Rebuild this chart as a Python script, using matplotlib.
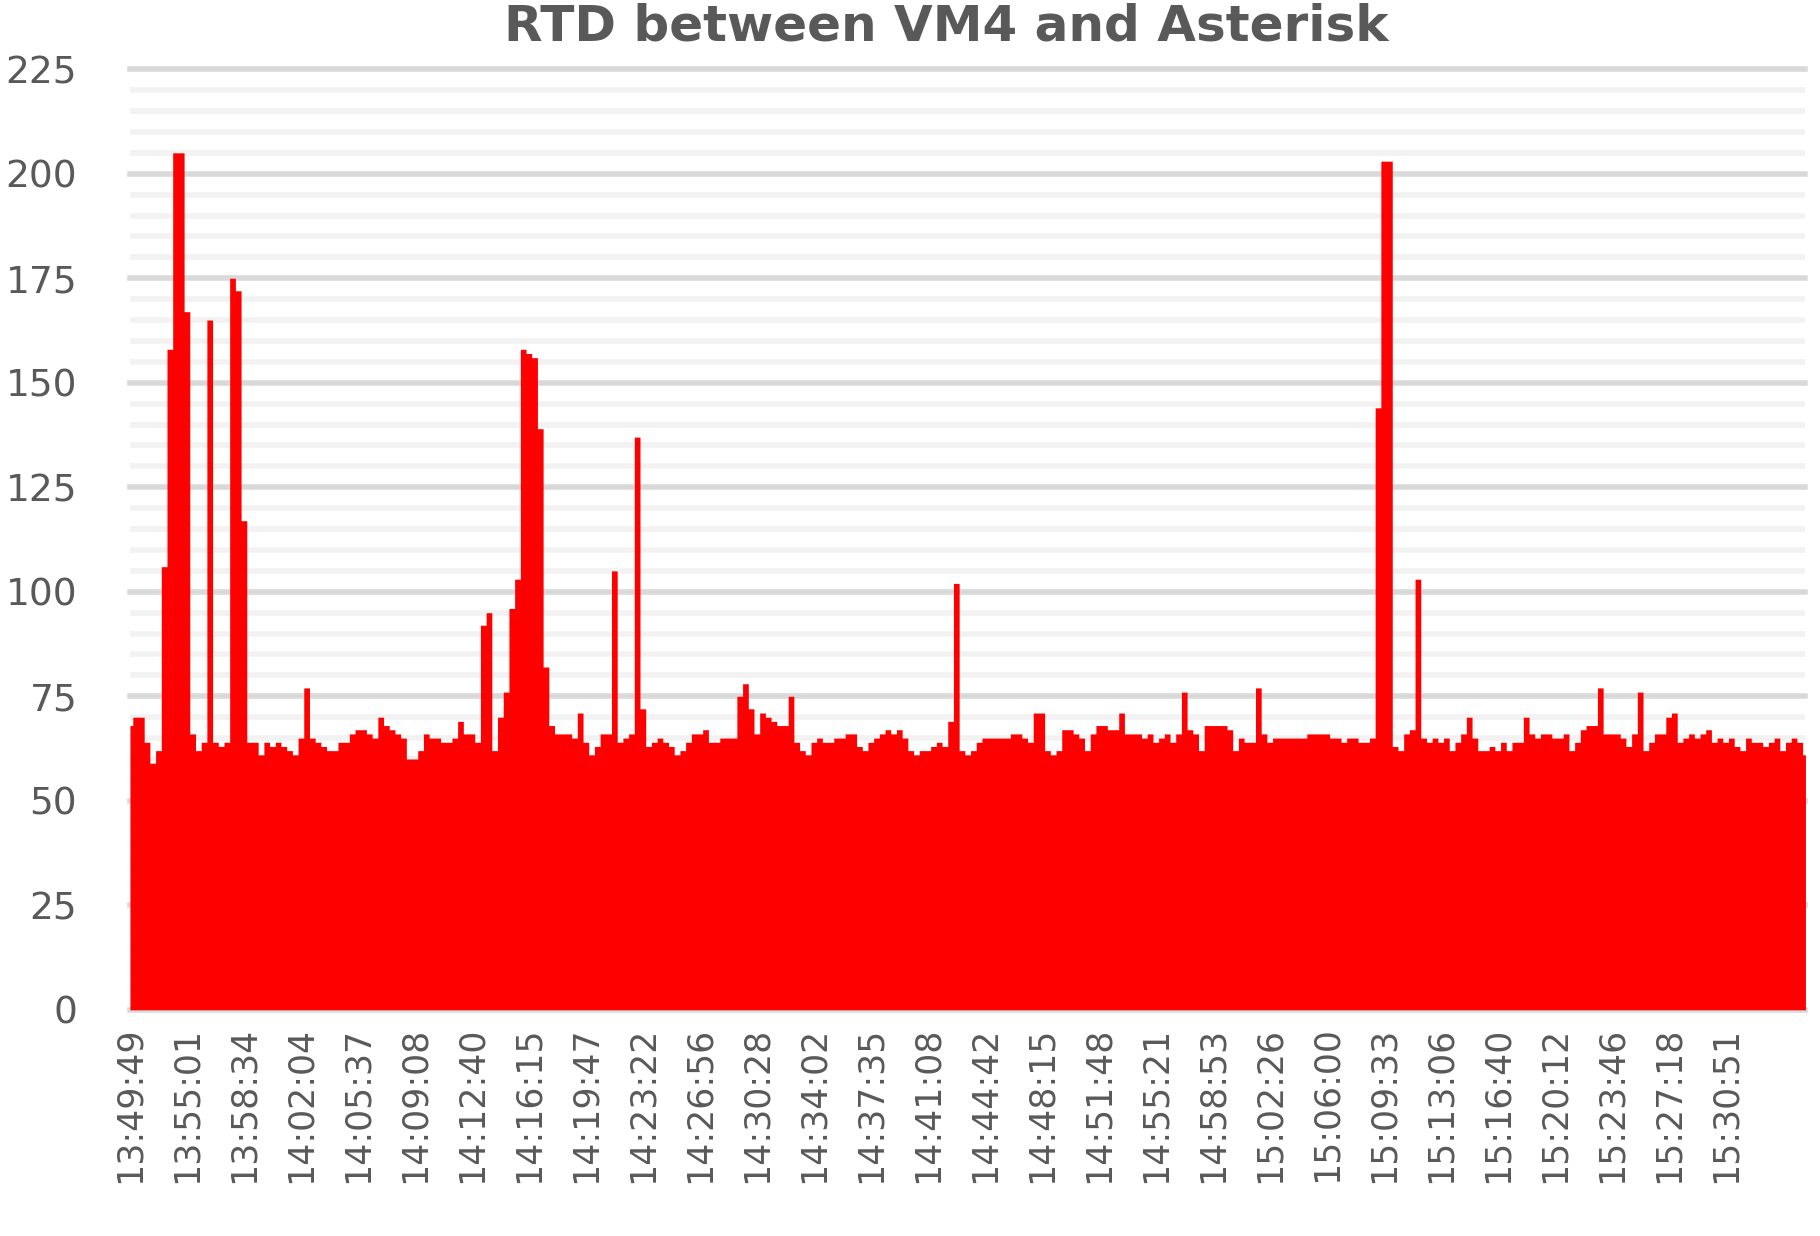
import matplotlib
matplotlib.use("Agg")
import matplotlib.pyplot as plt
import numpy as np

# RTD samples (ms), ten samples per tick label
rtd = [
    68, 70, 70, 64, 59, 62, 106, 158, 205, 205,
    167, 66, 62, 64, 165, 64, 63, 64, 175, 172,
    117, 64, 64, 61, 64, 63, 64, 63, 62, 61,
    65, 77, 65, 64, 63, 62, 62, 64, 64, 66,
    67, 67, 66, 65, 70, 68, 67, 66, 65, 60,
    60, 62, 66, 65, 65, 64, 64, 65, 69, 66,
    66, 64, 92, 95, 62, 70, 76, 96, 103, 158,
    157, 156, 139, 82, 68, 66, 66, 66, 65, 71,
    64, 61, 63, 66, 66, 105, 64, 65, 66, 137,
    72, 63, 64, 65, 64, 63, 61, 62, 64, 66,
    66, 67, 64, 64, 65, 65, 65, 75, 78, 72,
    66, 71, 70, 69, 68, 68, 75, 64, 62, 61,
    64, 65, 64, 64, 65, 65, 66, 66, 63, 62,
    64, 65, 66, 67, 66, 67, 65, 62, 61, 62,
    62, 63, 64, 63, 69, 102, 62, 61, 62, 64,
    65, 65, 65, 65, 65, 66, 66, 65, 64, 71,
    71, 62, 61, 62, 67, 67, 66, 65, 62, 66,
    68, 68, 67, 67, 71, 66, 66, 66, 65, 66,
    64, 65, 66, 64, 66, 76, 67, 66, 62, 68,
    68, 68, 68, 67, 62, 65, 64, 64, 77, 66,
    64, 65, 65, 65, 65, 65, 65, 66, 66, 66,
    66, 65, 65, 64, 65, 65, 64, 64, 65, 144,
    203, 203, 63, 62, 66, 67, 103, 65, 64, 65,
    64, 65, 62, 64, 66, 70, 65, 62, 62, 63,
    62, 64, 62, 64, 64, 70, 66, 65, 66, 66,
    65, 65, 66, 62, 64, 67, 68, 68, 77, 66,
    66, 66, 65, 63, 66, 76, 62, 64, 66, 66,
    70, 71, 64, 65, 66, 65, 66, 67, 64, 65,
    64, 65, 63, 62, 65, 64, 64, 63, 64, 65,
    62, 64, 65, 64, 61,
]

tick_labels = [
    "13:49:49", "13:55:01", "13:58:34", "14:02:04", "14:05:37", "14:09:08",
    "14:12:40", "14:16:15", "14:19:47", "14:23:22", "14:26:56", "14:30:28",
    "14:34:02", "14:37:35", "14:41:08", "14:44:42", "14:48:15", "14:51:48",
    "14:55:21", "14:58:53", "15:02:26", "15:06:00", "15:09:33", "15:13:06",
    "15:16:40", "15:20:12", "15:23:46", "15:27:18", "15:30:51",
]

gray = "#595959"
x = np.arange(len(rtd))

fig = plt.figure(figsize=(18.2, 12.36), dpi=100)
ax = fig.add_axes([0.0714, 0.183, 0.9206, 0.761])

for v in np.arange(5, 225, 5):
    if v % 25:
        ax.axhline(v, color="#f2f2f2", lw=4, zorder=0)
for v in np.arange(25, 226, 25):
    ax.axhline(v, color="#d9d9d9", lw=4, zorder=0, clip_on=False)

ax.fill_between(x, rtd, 0, step="mid", color="#ff0000", lw=0, zorder=2)
ax.axhline(0, color="#d9d9d9", lw=4, zorder=1, clip_on=False)

ax.set_xlim(0, len(rtd) - 1)
ax.set_ylim(0, 225)
ax.set_yticks(np.arange(0, 226, 25))
ax.set_xticks(np.arange(0, len(tick_labels) * 10, 10))
ax.set_xticklabels(tick_labels, rotation=90)
ax.tick_params(axis="y", length=0, labelsize=27, colors=gray, pad=38)
ax.tick_params(axis="x", length=0, labelsize=25, colors=gray, pad=12)
for s in ax.spines.values():
    s.set_visible(False)

fig.suptitle("RTD between VM4 and Asterisk", fontsize=36, fontweight="bold",
             color=gray, x=0.52, y=0.998, va="top")

fig.savefig("out.png", dpi=100)
